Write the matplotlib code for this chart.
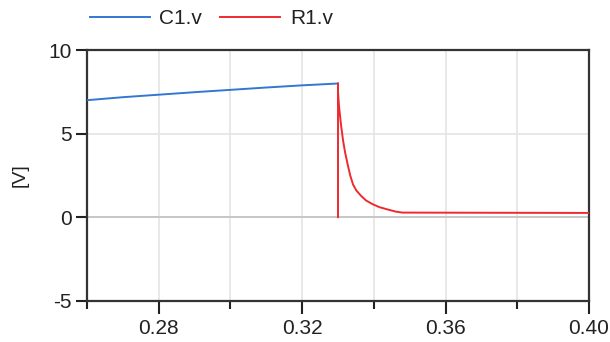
import matplotlib
matplotlib.use('Agg')
import matplotlib.pyplot as plt
from matplotlib.ticker import MultipleLocator

plt.rcParams['font.family'] = ['Liberation Sans', 'DejaVu Sans']
plt.rcParams['axes.unicode_minus'] = False

# C1.v (blue)
c1_t = [0.26, 0.27, 0.28, 0.29, 0.30, 0.31, 0.32, 0.33]
c1_v = [7.0, 7.18, 7.33, 7.48, 7.62, 7.76, 7.89, 8.0]

# R1.v (red)
r1_t = [0.33, 0.33, 0.3300, 0.3303, 0.3308, 0.3314, 0.3320, 0.3327, 0.3334,
        0.3342, 0.3351, 0.3364, 0.3378, 0.3396, 0.3415, 0.3438, 0.3461,
        0.3480, 0.40]
r1_v = [0.0, 8.0, 7.5, 6.6, 5.6, 4.6, 3.85, 3.15, 2.5,
        1.95, 1.6, 1.28, 1.0, 0.78, 0.6, 0.46, 0.33,
        0.27, 0.25]

fig = plt.figure(figsize=(6.1, 3.42), dpi=100)
ax = fig.add_axes([0.1426, 0.121, 0.8230, 0.7325])

# grid
ax.xaxis.set_minor_locator(MultipleLocator(0.02))
ax.set_xticks([0.28, 0.32, 0.36, 0.40])
ax.set_xticklabels(['0.28', '0.32', '0.36', '0.40'])
ax.set_yticks([-5, 0, 5, 10])
ax.grid(True, which='both', axis='x', color='#e6e6e6', linewidth=1.3)
ax.grid(True, which='major', axis='y', color='#e6e6e6', linewidth=1.3)
ax.axhline(0, color='#c4c4c4', linewidth=1.3, zorder=1)

ax.plot(c1_t, c1_v, color='#3377d0', linewidth=1.4, label='C1.v', zorder=3)
ax.plot(r1_t, r1_v, color='#ee2a2e', linewidth=1.4, label='R1.v', zorder=4)

ax.set_xlim(0.26, 0.40)
ax.set_ylim(-5, 10)
ax.set_ylabel('[V]', fontsize=14, color='#222222', labelpad=14)

for s in ax.spines.values():
    s.set_color('#333333')
    s.set_linewidth(1.6)
ax.set_axisbelow(True)

ax.tick_params(axis='x', which='major', length=9, width=1.5, color='#222222',
               labelsize=15, labelcolor='#222222', pad=4)
ax.tick_params(axis='x', which='minor', length=6, width=1.5, color='#222222')
ax.tick_params(axis='y', which='major', length=8, width=1.5, color='#222222',
               labelsize=15, labelcolor='#222222', pad=3)

ax.legend(loc='lower left', bbox_to_anchor=(-0.003, 1.07), ncol=2, frameon=False,
          fontsize=15, handlelength=2.9, handletextpad=0.45, columnspacing=0.85,
          borderaxespad=0, borderpad=0.2, labelcolor='#222222')

fig.savefig('out.png', dpi=100)
